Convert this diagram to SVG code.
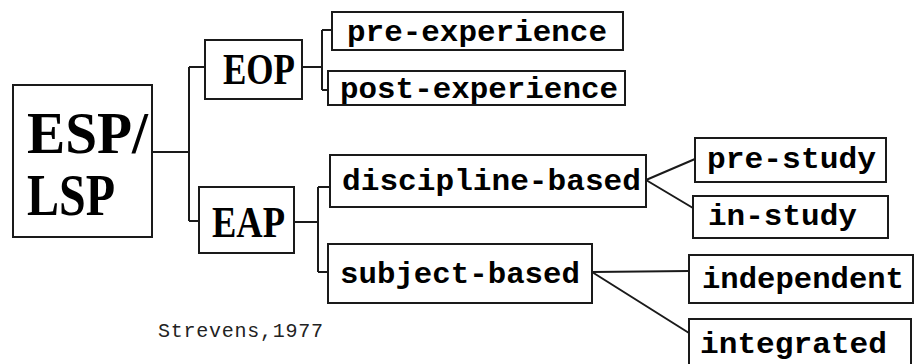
<svg xmlns="http://www.w3.org/2000/svg" width="920" height="364" viewBox="0 0 920 364">
<style>
.box{fill:#fff;stroke:#1a1a1a;stroke-width:2}
.ln{fill:none;stroke:#1a1a1a;stroke-width:2}
.big{font-family:"Liberation Serif",serif;font-weight:bold;fill:#000}
.mono{font-family:"Liberation Mono",monospace;font-weight:bold;font-size:30px;fill:#000}
.cite{font-family:"Liberation Mono",monospace;font-size:20px;fill:#222}
</style>
<rect width="920" height="364" fill="#fff"/>
<g id="connectors">
<path class="ln" d="M152,152 H190 M189,67 V221 M189,67 H205 M189,221 H199"/>
<path class="ln" d="M302,67 H322 M322,30 V90 M322,30 H332 M322,90 H328"/>
<path class="ln" d="M294,222 H318 M318,187 V272 M318,187 H330 M318,272 H328"/>
<path class="ln" stroke-width="1.6" d="M646,180 L695,159 M646,180 L693,208"/>
<path class="ln" stroke-width="1.6" d="M592,272 L689,271 M592,272 L689,333"/>
</g>
<g id="esp"><rect class="box" x="13" y="85" width="139" height="152"/>
<text class="big" x="27" y="153" font-size="60" textLength="121" lengthAdjust="spacingAndGlyphs">ESP/</text>
<text class="big" x="27" y="215" font-size="60" textLength="88" lengthAdjust="spacingAndGlyphs">LSP</text></g>
<g id="eop"><rect class="box" x="205" y="40" width="97" height="59"/>
<text class="big" x="223" y="84" font-size="45" textLength="72" lengthAdjust="spacingAndGlyphs">EOP</text></g>
<g id="eap"><rect class="box" x="199" y="187" width="95" height="66"/>
<text class="big" x="212" y="237" font-size="45" textLength="73" lengthAdjust="spacingAndGlyphs">EAP</text></g>
<g id="pre-experience"><rect class="box" x="332" y="12" width="291" height="38"/>
<text class="mono" x="347" y="41" textLength="260" lengthAdjust="spacingAndGlyphs">pre-experience</text></g>
<g id="post-experience"><rect class="box" x="328" y="71" width="297" height="34"/>
<text class="mono" x="340" y="98" textLength="278" lengthAdjust="spacingAndGlyphs">post-experience</text></g>
<g id="discipline-based"><rect class="box" x="330" y="155" width="316" height="52"/>
<text class="mono" x="342" y="190" textLength="299" lengthAdjust="spacingAndGlyphs">discipline-based</text></g>
<g id="subject-based"><rect class="box" x="328" y="244" width="264" height="59"/>
<text class="mono" x="340" y="283" textLength="240" lengthAdjust="spacingAndGlyphs">subject-based</text></g>
<g id="pre-study"><rect class="box" x="695" y="138" width="191" height="44"/>
<text class="mono" x="707" y="168" textLength="169" lengthAdjust="spacingAndGlyphs">pre-study</text></g>
<g id="in-study"><rect class="box" x="693" y="196" width="195" height="42"/>
<text class="mono" x="708" y="225" textLength="149" lengthAdjust="spacingAndGlyphs">in-study</text></g>
<g id="independent"><rect class="box" x="689" y="255" width="224" height="48"/>
<text class="mono" x="702" y="288" textLength="202" lengthAdjust="spacingAndGlyphs">independent</text></g>
<g id="integrated"><rect class="box" x="689" y="319" width="222" height="50"/>
<text class="mono" x="700" y="353" textLength="187" lengthAdjust="spacingAndGlyphs">integrated</text></g>
<g id="citation"><text class="cite" x="158" y="337" textLength="165" lengthAdjust="spacing">Strevens,1977</text></g>
</svg>
